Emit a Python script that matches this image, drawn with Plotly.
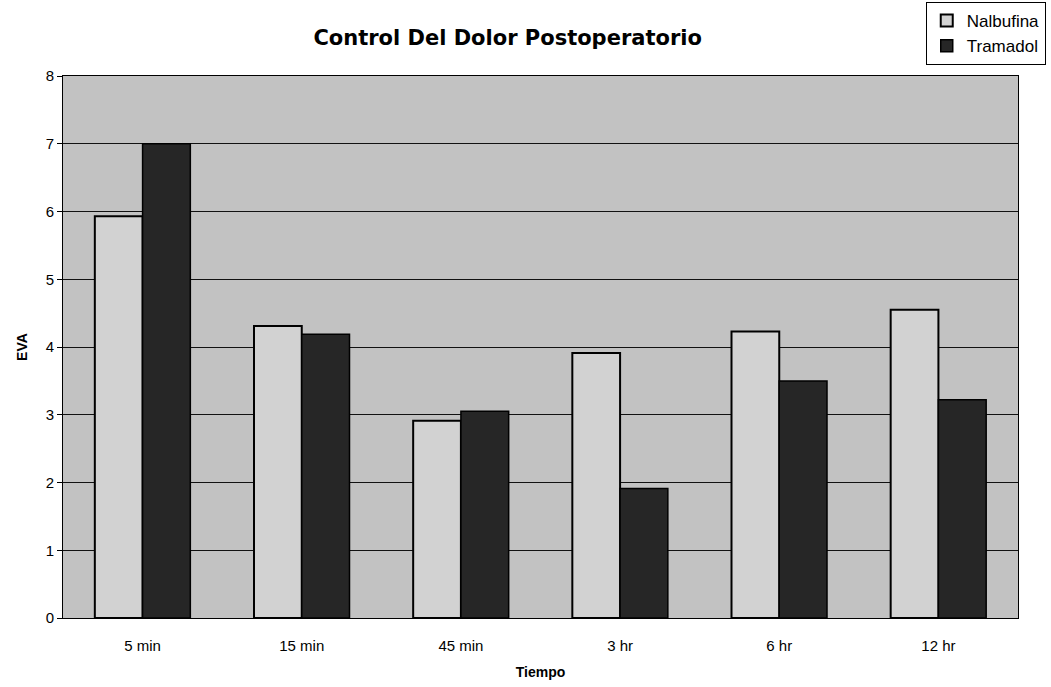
import plotly.graph_objects as go

# Pain-score (EVA) means per time point for each analgesic
tiempos = ["5 min", "15 min", "45 min", "3 hr", "6 hr", "12 hr"]
nalbufina = [5.93, 4.31, 2.91, 3.91, 4.23, 4.55]
tramadol = [7.0, 4.19, 3.05, 1.91, 3.50, 3.22]
y_ticks = [0, 1, 2, 3, 4, 5, 6, 7, 8]

fig = go.Figure()
fig.add_trace(go.Bar(
    x=tiempos, y=nalbufina, name="Nalbufina",
    marker=dict(color="#d2d2d2", line=dict(color="#000000", width=2)),
))
fig.add_trace(go.Bar(
    x=tiempos, y=tramadol, name="Tramadol",
    marker=dict(color="#262626", line=dict(color="#000000", width=1.5)),
))

fig.update_layout(
    width=1051, height=687,
    margin=dict(l=63, r=33, t=76, b=69, autoexpand=False),
    paper_bgcolor="#ffffff",
    plot_bgcolor="#c2c2c2",
    barmode="group",
    bargap=0.4,
    bargroupgap=0.0,
    font=dict(family="Liberation Sans, Arial, sans-serif", color="#000000", size=14),
    title=dict(
        text="<b>Control Del Dolor Postoperatorio</b>",
        x=0.483, xanchor="center", y=0.945, yanchor="middle",
        font=dict(family="DejaVu Sans, sans-serif", size=21),
    ),
    legend=dict(
        xref="container", yref="container",
        x=0.995, xanchor="right", y=0.997, yanchor="top",
        bordercolor="#000000", borderwidth=1, bgcolor="#ffffff",
        font=dict(size=17), traceorder="normal",
        itemwidth=30, tracegroupgap=0,
    ),
    showlegend=True,
)

fig.update_xaxes(
    title=dict(text="<b>Tiempo</b>", font=dict(size=14), standoff=14),
    showline=True, linecolor="#000000", linewidth=1, mirror=True,
    showgrid=False, ticks="", tickfont=dict(size=15),
    ticklabelstandoff=14,
)
fig.update_yaxes(
    title=dict(text="<b>EVA</b>", font=dict(size=14), standoff=14),
    range=[0, 8], tickvals=y_ticks,
    showline=True, linecolor="#000000", linewidth=1, mirror=True,
    showgrid=True, gridcolor="#111111", gridwidth=1,
    ticks="outside", ticklen=5, tickcolor="#000000",
    tickfont=dict(size=15), zeroline=False,
)

fig.write_html("out.html")
